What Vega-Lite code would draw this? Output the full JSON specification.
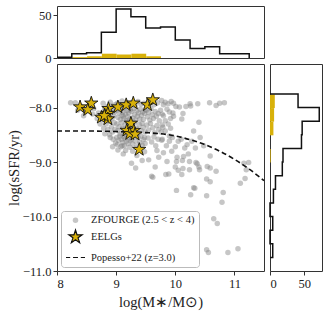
{
"$schema": "https://vega.github.io/schema/vega-lite/v6.json",
"background": "white",
"padding": 5,
"spacing": 6,
"bounds": "flush",
"resolve": {"scale": {"shape": "independent", "fill": "independent", "stroke": "independent", "size": "independent"}, "legend": {"shape": "independent", "fill": "independent", "stroke": "independent", "size": "independent"}},
"datasets": {
"zf": [
{"m":8.23,"s":-7.91},{"m":8.31,"s":-7.91},{"m":8.40,"s":-7.97},{"m":8.35,"s":-8.05},{"m":8.45,"s":-8.15},{"m":8.48,"s":-8.08},
{"m":8.55,"s":-7.95},{"m":8.62,"s":-8.02},{"m":8.68,"s":-8.20},{"m":8.70,"s":-8.10},{"m":8.60,"s":-8.12},{"m":8.73,"s":-8.30},
{"m":8.78,"s":-7.92},{"m":8.80,"s":-8.05},{"m":8.82,"s":-8.18},{"m":8.83,"s":-8.30},{"m":8.85,"s":-7.98},{"m":8.86,"s":-8.40},
{"m":8.87,"s":-8.12},{"m":8.88,"s":-8.25},{"m":8.89,"s":-8.50},{"m":8.90,"s":-7.90},{"m":8.91,"s":-8.08},{"m":8.92,"s":-8.35},
{"m":8.93,"s":-8.20},{"m":8.94,"s":-8.45},{"m":8.95,"s":-8.02},{"m":8.95,"s":-8.58},{"m":8.96,"s":-8.15},{"m":8.97,"s":-8.28},
{"m":8.98,"s":-7.95},{"m":8.98,"s":-8.40},{"m":8.99,"s":-8.65},{"m":8.77,"s":-8.22},{"m":8.79,"s":-8.38},{"m":8.84,"s":-8.10},
{"m":8.88,"s":-8.02},{"m":8.92,"s":-7.97},{"m":8.94,"s":-8.72},{"m":8.81,"s":-8.48},{"m":8.97,"s":-8.08},{"m":8.90,"s":-8.55},
{"m":9.02,"s":-7.92},{"m":9.06,"s":-7.97},{"m":9.10,"s":-7.88},{"m":9.14,"s":-7.95},{"m":9.18,"s":-7.91},{"m":9.21,"s":-7.98},{"m":9.24,"s":-7.93},
{"m":9.01,"s":-8.05},{"m":9.03,"s":-8.18},{"m":9.05,"s":-8.10},{"m":9.07,"s":-8.22},{"m":9.08,"s":-8.03},{"m":9.10,"s":-8.14},{"m":9.11,"s":-8.08},
{"m":9.13,"s":-8.20},{"m":9.14,"s":-8.02},{"m":9.16,"s":-8.12},{"m":9.17,"s":-8.24},{"m":9.19,"s":-8.06},{"m":9.20,"s":-8.17},{"m":9.21,"s":-8.10},
{"m":9.23,"s":-8.21},{"m":9.24,"s":-8.04},{"m":9.12,"s":-8.16},
{"m":9.01,"s":-8.30},{"m":9.03,"s":-8.42},{"m":9.05,"s":-8.35},{"m":9.07,"s":-8.48},{"m":9.09,"s":-8.28},{"m":9.11,"s":-8.38},{"m":9.13,"s":-8.45},
{"m":9.15,"s":-8.32},{"m":9.17,"s":-8.40},{"m":9.19,"s":-8.27},{"m":9.21,"s":-8.46},{"m":9.23,"s":-8.34},{"m":9.24,"s":-8.41},
{"m":9.01,"s":-8.55},{"m":9.02,"s":-8.68},{"m":9.04,"s":-8.60},{"m":9.06,"s":-8.52},{"m":9.08,"s":-8.72},{"m":9.09,"s":-8.58},{"m":9.11,"s":-8.64},
{"m":9.12,"s":-8.53},{"m":9.14,"s":-8.70},{"m":9.15,"s":-8.57},{"m":9.17,"s":-8.62},{"m":9.18,"s":-8.51},{"m":9.20,"s":-8.66},{"m":9.22,"s":-8.56},
{"m":9.23,"s":-8.73},{"m":9.24,"s":-8.61},
{"m":9.27,"s":-7.90},{"m":9.32,"s":-7.96},{"m":9.37,"s":-7.89},{"m":9.42,"s":-7.94},{"m":9.47,"s":-7.92},
{"m":9.26,"s":-8.07},{"m":9.28,"s":-8.19},{"m":9.30,"s":-8.02},{"m":9.31,"s":-8.13},{"m":9.33,"s":-8.23},{"m":9.35,"s":-8.06},{"m":9.36,"s":-8.16},
{"m":9.38,"s":-8.10},{"m":9.40,"s":-8.21},{"m":9.41,"s":-8.03},{"m":9.43,"s":-8.14},{"m":9.45,"s":-8.08},{"m":9.46,"s":-8.22},{"m":9.48,"s":-8.11},{"m":9.49,"s":-8.04},
{"m":9.26,"s":-8.33},{"m":9.29,"s":-8.44},{"m":9.31,"s":-8.28},{"m":9.34,"s":-8.38},{"m":9.37,"s":-8.47},{"m":9.39,"s":-8.31},{"m":9.42,"s":-8.42},
{"m":9.44,"s":-8.29},{"m":9.46,"s":-8.36},{"m":9.49,"s":-8.45},
{"m":9.26,"s":-8.58},{"m":9.28,"s":-8.67},{"m":9.30,"s":-8.53},{"m":9.33,"s":-8.62},{"m":9.35,"s":-8.72},{"m":9.37,"s":-8.55},{"m":9.40,"s":-8.64},
{"m":9.42,"s":-8.52},{"m":9.44,"s":-8.69},{"m":9.46,"s":-8.59},{"m":9.48,"s":-8.55},{"m":9.49,"s":-8.66},
{"m":9.52,"s":-7.93},{"m":9.58,"s":-7.88},{"m":9.64,"s":-7.95},{"m":9.70,"s":-7.91},
{"m":9.51,"s":-8.05},{"m":9.53,"s":-8.17},{"m":9.55,"s":-8.09},{"m":9.57,"s":-8.23},{"m":9.59,"s":-8.02},{"m":9.61,"s":-8.13},{"m":9.63,"s":-8.20},
{"m":9.66,"s":-8.07},{"m":9.68,"s":-8.16},{"m":9.71,"s":-8.11},{"m":9.73,"s":-8.24},
{"m":9.52,"s":-8.32},{"m":9.55,"s":-8.41},{"m":9.58,"s":-8.29},{"m":9.62,"s":-8.37},{"m":9.65,"s":-8.46},{"m":9.69,"s":-8.33},{"m":9.72,"s":-8.40},
{"m":9.54,"s":-8.56},{"m":9.60,"s":-8.63},{"m":9.64,"s":-8.54},{"m":9.67,"s":-8.70},{"m":9.71,"s":-8.58},
{"m":9.80,"s":-7.95},{"m":9.93,"s":-7.89},{"m":9.78,"s":-8.12},{"m":9.86,"s":-8.03},{"m":9.92,"s":-8.20},{"m":9.96,"s":-8.10},
{"m":9.92,"s":-8.38},{"m":9.76,"s":-8.45},{"m":9.77,"s":-8.60},{"m":9.90,"s":-8.62},
{"m":9.77,"s":-7.87},{"m":9.83,"s":-7.90},{"m":9.88,"s":-7.93},{"m":9.97,"s":-7.92},{"m":10.01,"s":-7.98},{"m":10.07,"s":-7.99},{"m":10.18,"s":-7.98},
{"m":10.25,"s":-7.93},{"m":10.38,"s":-7.93},{"m":10.58,"s":-7.91},{"m":10.69,"s":-7.96},{"m":10.75,"s":-7.92},{"m":10.83,"s":-7.91},{"m":10.26,"s":-7.97},
{"m":9.75,"s":-8.05},{"m":9.83,"s":-8.24},{"m":9.97,"s":-8.16},{"m":10.13,"s":-8.11},{"m":10.11,"s":-8.21},{"m":9.90,"s":-8.08},{"m":9.80,"s":-8.15},
{"m":9.78,"s":-8.32},{"m":9.83,"s":-8.43},{"m":10.31,"s":-8.43},{"m":10.40,"s":-8.27},{"m":9.79,"s":-8.36},{"m":9.88,"s":-8.30},
{"m":10.42,"s":-8.55},{"m":9.95,"s":-8.55},{"m":10.05,"s":-8.62},{"m":10.20,"s":-8.68},{"m":9.85,"s":-8.70},
{"m":9.78,"s":-8.58},{"m":9.90,"s":-8.52},{"m":10.00,"s":-8.72},{"m":10.10,"s":-8.58},{"m":10.16,"s":-8.74},{"m":9.94,"s":-8.80},{"m":10.28,"s":-8.62},
{"m":10.02,"s":-9.52},{"m":10.26,"s":-9.60},{"m":10.31,"s":-9.47},{"m":10.33,"s":-9.48},{"m":10.53,"s":-9.62},{"m":10.59,"s":-9.36},{"m":10.81,"s":-9.56},
{"m":10.79,"s":-9.74},{"m":11.10,"s":-9.39},{"m":10.65,"s":-10.04},{"m":10.71,"s":-10.13},{"m":10.35,"s":-10.18},{"m":10.53,"s":-10.61},{"m":10.56,"s":-10.66},
{"m":10.89,"s":-10.66},{"m":11.06,"s":-10.59},{"m":9.84,"s":-9.23},{"m":11.18,"s":-9.30},{"m":11.20,"s":-9.14},{"m":11.24,"s":-9.01},{"m":11.16,"s":-9.02},
{"m":10.59,"s":-9.11},{"m":10.69,"s":-9.17},{"m":10.53,"s":-9.31},{"m":10.41,"s":-9.14},{"m":10.35,"s":-9.01},{"m":10.37,"s":-9.03},{"m":10.24,"s":-9.14},
{"m":10.11,"s":-9.23},{"m":10.13,"s":-9.12},{"m":10.05,"s":-9.15},{"m":10.24,"s":-8.99},{"m":10.14,"s":-8.90},{"m":10.02,"s":-8.99},{"m":9.86,"s":-8.99},
{"m":10.59,"s":-8.89},{"m":10.54,"s":-9.08},{"m":10.40,"s":-9.09},{"m":10.22,"s":-8.85},{"m":10.34,"s":-8.74},{"m":10.48,"s":-8.70},{"m":10.12,"s":-8.97},
{"m":10.03,"s":-8.91},{"m":10.00,"s":-9.09},{"m":9.89,"s":-9.22},{"m":9.66,"s":-9.09},{"m":9.72,"s":-8.91},{"m":9.60,"s":-9.26},{"m":9.26,"s":-9.02},
{"m":9.33,"s":-9.11},{"m":9.55,"s":-8.96},{"m":9.44,"s":-8.97},{"m":9.35,"s":-8.88},{"m":9.16,"s":-8.79},{"m":9.03,"s":-8.78},{"m":9.10,"s":-8.70},
{"m":9.62,"s":-9.28},{"m":9.48,"s":-8.81},{"m":9.69,"s":-8.79},{"m":9.12,"s":-8.85},{"m":9.28,"s":-8.80},{"m":9.80,"s":-8.83}
],
"eelg": [
{"m":8.39,"s":-7.99},{"m":8.58,"s":-7.92},{"m":8.52,"s":-8.04},{"m":8.75,"s":-8.18},{"m":8.87,"s":-8.02},{"m":8.86,"s":-8.11},
{"m":8.86,"s":-8.21},{"m":8.80,"s":-8.15},{"m":9.03,"s":-7.99},{"m":9.17,"s":-7.95},{"m":9.29,"s":-7.92},{"m":9.53,"s":-7.95},
{"m":9.62,"s":-7.86},{"m":9.25,"s":-8.29},{"m":9.18,"s":-8.42},{"m":9.30,"s":-8.42},{"m":9.23,"s":-8.48},{"m":9.32,"s":-8.49},{"m":9.39,"s":-8.77}
],
"pop": [
{"m":8.0,"s":-8.43},{"m":8.5,"s":-8.43},{"m":9.0,"s":-8.44},{"m":9.5,"s":-8.46},{"m":9.75,"s":-8.48},{"m":10.0,"s":-8.52},
{"m":10.25,"s":-8.59},{"m":10.5,"s":-8.68},{"m":10.75,"s":-8.80},{"m":11.0,"s":-8.95},{"m":11.25,"s":-9.13},{"m":11.5,"s":-9.34}
],
"hx": [
{"edge":8.0,"count":1},{"edge":8.25,"count":5},{"edge":8.5,"count":6},{"edge":8.75,"count":30},{"edge":9.0,"count":57},
{"edge":9.25,"count":48},{"edge":9.5,"count":35},{"edge":9.75,"count":36},{"edge":10.0,"count":21},{"edge":10.25,"count":11},
{"edge":10.5,"count":13},{"edge":10.75,"count":5},{"edge":11.0,"count":5},{"edge":11.25,"count":0}
],
"hy": [
{"k":0,"edge":-7.75,"count":0},{"k":1,"edge":-7.75,"count":41},{"k":2,"edge":-8.0,"count":72},{"k":3,"edge":-8.25,"count":47},
{"k":4,"edge":-8.5,"count":46},{"k":5,"edge":-8.75,"count":19},{"k":6,"edge":-9.0,"count":18},{"k":7,"edge":-9.25,"count":8},
{"k":8,"edge":-9.5,"count":5},{"k":9,"edge":-9.75,"count":0},{"k":10,"edge":-10.0,"count":4},{"k":11,"edge":-10.25,"count":0},
{"k":12,"edge":-10.5,"count":4},{"k":13,"edge":-10.75,"count":0}
]
},
"config": {
"font": "Liberation Serif",
"view": {"stroke": "#333", "strokeWidth": 1},
"axis": {"grid": false, "domain": false, "tickColor": "#333", "tickSize": 4, "labelPadding": 2, "labelFontSize": 12.5, "labelColor": "#222", "labelFont": "Liberation Serif", "titleFont": "Liberation Serif", "titleFontSize": 14.5, "titleFontWeight": "normal", "titleColor": "#222"},
"legend": {"symbolStrokeWidth": 1.2}
},
"vconcat": [
{
"width": 207, "height": 52,
"layer": [
{"data": {"name": "eelg"}, "mark": {"type": "bar", "color": "#D8B10A", "binSpacing": 0},
 "encoding": {
  "x": {"field": "m", "type": "quantitative", "bin": {"step": 0.25, "extent": [8, 11.5]}, "scale": {"domain": [8, 11.5], "nice": false}, "axis": null},
  "y": {"aggregate": "count", "type": "quantitative", "scale": {"domain": [0, 60.5], "nice": false}, "axis": {"values": [0, 50], "title": null}}
 }},
{"data": {"name": "hx"}, "mark": {"type": "line", "interpolate": "step-after", "color": "#111", "strokeWidth": 1.5},
 "encoding": {
  "x": {"field": "edge", "type": "quantitative"},
  "y": {"field": "count", "type": "quantitative"}
 }}
]
},
{
"spacing": 6,
"bounds": "flush",
"resolve": {"scale": {"shape": "independent", "fill": "independent", "stroke": "independent", "size": "independent"}, "legend": {"shape": "independent", "fill": "independent", "stroke": "independent", "size": "independent"}},
"hconcat": [
{
"width": 207, "height": 207,
"layer": [
{"data": {"name": "zf"}, "mark": {"type": "point", "filled": true, "opacity": 1, "strokeWidth": 0},
 "encoding": {
  "x": {"field": "m", "type": "quantitative", "scale": {"domain": [8, 11.5], "nice": false}, "axis": {"values": [8, 9, 10, 11], "format": "d", "title": "log(M∗/M⊙)", "titlePadding": 6}},
  "y": {"field": "s", "type": "quantitative", "scale": {"domain": [-11, -7.2], "nice": false}, "axis": {"values": [-8, -9, -10, -11], "title": "log(sSFR/yr)", "titlePadding": 1}},
  "shape": {"datum": "ZFOURGE (2.5 < z < 4)", "type": "nominal",
    "scale": {"domain": ["ZFOURGE (2.5 < z < 4)", "EELGs", "Popesso+22 (z=3.0)"], "range": ["circle", "M0,-1L0.2245,-0.309L0.951,-0.309L0.3633,0.118L0.588,0.809L0,0.382L-0.588,0.809L-0.3633,0.118L-0.951,-0.309L-0.2245,-0.309Z", "M-1,0H-0.56M-0.26,0H0.26M0.56,0H1"]},
    "legend": {"title": null, "orient": "bottom-left", "offset": 4, "fillColor": "white", "strokeColor": "#bbb", "cornerRadius": 3, "padding": 4, "labelFont": "Liberation Serif", "labelFontSize": 10.5, "labelColor": "#222", "rowPadding": 1, "labelOffset": 5}},
  "fill": {"datum": "ZFOURGE (2.5 < z < 4)", "type": "nominal",
    "scale": {"domain": ["ZFOURGE (2.5 < z < 4)", "EELGs", "Popesso+22 (z=3.0)"], "range": ["rgba(128,128,128,0.45)", "#D8B10A", "transparent"]},
    "legend": {"title": null, "orient": "bottom-left", "offset": 4, "fillColor": "white", "strokeColor": "#bbb", "cornerRadius": 3, "padding": 4, "labelFont": "Liberation Serif", "labelFontSize": 10.5, "labelColor": "#222", "rowPadding": 1, "labelOffset": 5}},
  "stroke": {"datum": "ZFOURGE (2.5 < z < 4)", "type": "nominal",
    "scale": {"domain": ["ZFOURGE (2.5 < z < 4)", "EELGs", "Popesso+22 (z=3.0)"], "range": ["transparent", "#111", "#111"]},
    "legend": {"title": null, "orient": "bottom-left", "offset": 4, "fillColor": "white", "strokeColor": "#bbb", "cornerRadius": 3, "padding": 4, "labelFont": "Liberation Serif", "labelFontSize": 10.5, "labelColor": "#222", "rowPadding": 1, "labelOffset": 5}},
  "size": {"datum": "ZFOURGE (2.5 < z < 4)", "type": "nominal",
    "scale": {"type": "point", "padding": 0, "domain": ["ZFOURGE (2.5 < z < 4)", "EELGs", "Popesso+22 (z=3.0)"], "range": [30, 361]},
    "legend": {"title": null, "orient": "bottom-left", "offset": 4, "fillColor": "white", "strokeColor": "#bbb", "cornerRadius": 3, "padding": 4, "labelFont": "Liberation Serif", "labelFontSize": 10.5, "labelColor": "#222", "rowPadding": 1, "labelOffset": 5}}
 }},
{"data": {"name": "pop"}, "mark": {"type": "line", "strokeDash": [5, 3], "strokeWidth": 1.6, "interpolate": "monotone"},
 "encoding": {
  "x": {"field": "m", "type": "quantitative"},
  "y": {"field": "s", "type": "quantitative"},
  "stroke": {"datum": "Popesso+22 (z=3.0)", "type": "nominal"}
 }},
{"data": {"name": "eelg"}, "mark": {"type": "point", "filled": true, "opacity": 1, "strokeWidth": 0.9},
 "encoding": {
  "x": {"field": "m", "type": "quantitative"},
  "y": {"field": "s", "type": "quantitative"},
  "shape": {"datum": "EELGs", "type": "nominal"},
  "fill": {"datum": "EELGs", "type": "nominal"},
  "stroke": {"datum": "EELGs", "type": "nominal"},
  "size": {"datum": "EELGs", "type": "nominal"}
 }}
]
},
{
"width": 52, "height": 207,
"layer": [
{"data": {"name": "eelg"}, "mark": {"type": "bar", "color": "#D8B10A", "binSpacing": 0, "orient": "horizontal"},
 "encoding": {
  "y": {"field": "s", "type": "quantitative", "bin": {"step": 0.25, "extent": [-11, -7.25]}, "scale": {"domain": [-11, -7.2], "nice": false}, "axis": null},
  "x": {"aggregate": "count", "type": "quantitative", "scale": {"domain": [0, 76], "nice": false}, "axis": {"values": [0, 50], "title": null}}
 }},
{"data": {"name": "hy"}, "mark": {"type": "line", "interpolate": "step-before", "color": "#111", "strokeWidth": 1.5},
 "encoding": {
  "x": {"field": "count", "type": "quantitative"},
  "y": {"field": "edge", "type": "quantitative"},
  "order": {"field": "k", "type": "quantitative"}
 }}
]
}
]
}
]
}
